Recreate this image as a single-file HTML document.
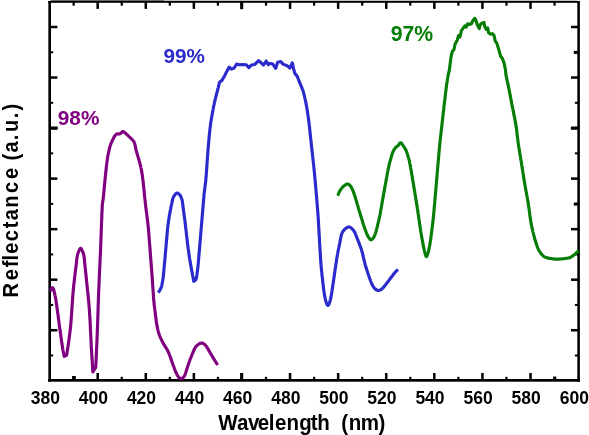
<!DOCTYPE html>
<html><head><meta charset="utf-8"><title>Reflectance</title>
<style>
html,body{margin:0;padding:0;background:#fff;}
body{width:589px;height:435px;overflow:hidden;}
svg{display:block;}
text{font-family:"Liberation Sans",Arial,Helvetica,sans-serif;font-weight:bold;}
</style></head><body>
<svg width="589" height="435" viewBox="0 0 589 435">
<rect x="0" y="0" width="589" height="435" fill="#fff"/>
<g fill="#000" stroke="none">
<rect x="50.30" y="0.00" width="114.20" height="1.00" fill="#6c6c6c"/>
<rect x="164.50" y="0.00" width="413.00" height="1.00" fill="#c6c0c6"/>
<rect x="72.55" y="376.80" width="2.20" height="3.55"/>
<rect x="72.55" y="1.90" width="2.20" height="3.80"/>
<rect x="96.44" y="373.00" width="2.50" height="7.35"/>
<rect x="96.44" y="1.90" width="2.50" height="7.00"/>
<rect x="120.64" y="376.80" width="2.20" height="3.55"/>
<rect x="120.64" y="1.90" width="2.20" height="3.80"/>
<rect x="144.53" y="373.00" width="2.50" height="7.35"/>
<rect x="144.53" y="1.90" width="2.50" height="7.00"/>
<rect x="168.73" y="376.80" width="2.20" height="3.55"/>
<rect x="168.73" y="1.90" width="2.20" height="3.80"/>
<rect x="192.62" y="373.00" width="2.50" height="7.35"/>
<rect x="192.62" y="1.90" width="2.50" height="7.00"/>
<rect x="216.82" y="376.80" width="2.20" height="3.55"/>
<rect x="216.82" y="1.90" width="2.20" height="3.80"/>
<rect x="240.71" y="373.00" width="2.50" height="7.35"/>
<rect x="240.71" y="1.90" width="2.50" height="7.00"/>
<rect x="264.91" y="376.80" width="2.20" height="3.55"/>
<rect x="264.91" y="1.90" width="2.20" height="3.80"/>
<rect x="288.80" y="373.00" width="2.50" height="7.35"/>
<rect x="288.80" y="1.90" width="2.50" height="7.00"/>
<rect x="313.00" y="376.80" width="2.20" height="3.55"/>
<rect x="313.00" y="1.90" width="2.20" height="3.80"/>
<rect x="336.90" y="373.00" width="2.50" height="7.35"/>
<rect x="336.90" y="1.90" width="2.50" height="7.00"/>
<rect x="361.09" y="376.80" width="2.20" height="3.55"/>
<rect x="361.09" y="1.90" width="2.20" height="3.80"/>
<rect x="384.99" y="373.00" width="2.50" height="7.35"/>
<rect x="384.99" y="1.90" width="2.50" height="7.00"/>
<rect x="409.18" y="376.80" width="2.20" height="3.55"/>
<rect x="409.18" y="1.90" width="2.20" height="3.80"/>
<rect x="433.08" y="373.00" width="2.50" height="7.35"/>
<rect x="433.08" y="1.90" width="2.50" height="7.00"/>
<rect x="457.27" y="376.80" width="2.20" height="3.55"/>
<rect x="457.27" y="1.90" width="2.20" height="3.80"/>
<rect x="481.17" y="373.00" width="2.50" height="7.35"/>
<rect x="481.17" y="1.90" width="2.50" height="7.00"/>
<rect x="505.36" y="376.80" width="2.20" height="3.55"/>
<rect x="505.36" y="1.90" width="2.20" height="3.80"/>
<rect x="529.26" y="373.00" width="2.50" height="7.35"/>
<rect x="529.26" y="1.90" width="2.50" height="7.00"/>
<rect x="553.45" y="376.80" width="2.20" height="3.55"/>
<rect x="553.45" y="1.90" width="2.20" height="3.80"/>
<rect x="49.60" y="354.51" width="3.60" height="2.00"/>
<rect x="574.90" y="354.51" width="3.70" height="2.00"/>
<rect x="49.60" y="328.99" width="7.80" height="2.50"/>
<rect x="571.00" y="328.99" width="7.60" height="2.50"/>
<rect x="49.60" y="303.97" width="3.60" height="2.00"/>
<rect x="574.90" y="303.97" width="3.70" height="2.00"/>
<rect x="49.60" y="278.45" width="7.80" height="2.50"/>
<rect x="571.00" y="278.45" width="7.60" height="2.50"/>
<rect x="49.60" y="253.43" width="3.60" height="2.00"/>
<rect x="574.90" y="253.43" width="3.70" height="2.00"/>
<rect x="49.60" y="227.91" width="7.80" height="2.50"/>
<rect x="571.00" y="227.91" width="7.60" height="2.50"/>
<rect x="49.60" y="202.89" width="3.60" height="2.00"/>
<rect x="574.90" y="202.89" width="3.70" height="2.00"/>
<rect x="49.60" y="177.37" width="7.80" height="2.50"/>
<rect x="571.00" y="177.37" width="7.60" height="2.50"/>
<rect x="49.60" y="152.35" width="3.60" height="2.00"/>
<rect x="574.90" y="152.35" width="3.70" height="2.00"/>
<rect x="49.60" y="126.83" width="7.80" height="2.50"/>
<rect x="571.00" y="126.83" width="7.60" height="2.50"/>
<rect x="49.60" y="101.81" width="3.60" height="2.00"/>
<rect x="574.90" y="101.81" width="3.70" height="2.00"/>
<rect x="49.60" y="76.29" width="7.80" height="2.50"/>
<rect x="571.00" y="76.29" width="7.60" height="2.50"/>
<rect x="49.60" y="51.27" width="3.60" height="2.00"/>
<rect x="574.90" y="51.27" width="3.70" height="2.00"/>
<rect x="49.60" y="25.75" width="7.80" height="2.50"/>
<rect x="571.00" y="25.75" width="7.60" height="2.50"/>
<rect x="51.00" y="126.60" width="6.60" height="3.10"/>
<rect x="570.90" y="126.60" width="6.40" height="3.10"/>
<rect x="573.80" y="50.90" width="3.50" height="3.00"/>
<rect x="573.80" y="202.60" width="3.50" height="3.00"/>
<rect x="72.05" y="376.00" width="3.80" height="3.50"/>
<rect x="240.20" y="373.00" width="2.80" height="6.50"/>
<rect x="553.30" y="376.60" width="3.00" height="2.90"/>
<rect x="240.20" y="2.00" width="2.80" height="7.20"/>
<rect x="48.35" y="1.00" width="2.65" height="380.70"/>
<rect x="577.30" y="1.00" width="2.60" height="380.70"/>
<rect x="48.10" y="1.00" width="531.80" height="1.80"/>
<rect x="48.10" y="379.00" width="531.80" height="2.70"/>
</g>
<g fill="none" stroke-linejoin="round" stroke-linecap="butt">
<polyline stroke="#800080" stroke-width="3.15" points="50.5,291.3 50.7,290.5 50.9,289.7 51.3,289.1 51.8,288.3 52.5,287.7 53.0,288.2 53.3,288.8 53.7,289.6 53.9,290.4 54.1,291.2 54.3,292.0 54.5,292.7 54.6,293.5 54.8,294.3 55.0,295.1 55.1,295.8 55.3,296.6 55.4,297.4 55.6,298.2 55.7,299.0 55.9,299.7 56.0,300.5 56.1,301.3 56.2,302.1 56.3,302.9 56.4,303.7 56.6,304.5 56.7,305.2 56.8,306.0 56.9,306.8 57.0,307.6 57.1,308.4 57.2,309.2 57.3,310.0 57.4,310.7 57.5,311.5 57.6,312.3 57.7,313.1 57.9,313.9 58.0,314.7 58.1,315.5 58.2,316.3 58.3,317.0 58.4,317.8 58.5,318.6 58.6,319.4 58.7,320.2 58.8,321.0 58.9,321.8 59.0,322.6 59.1,323.3 59.2,324.1 59.3,324.9 59.4,325.7 59.5,326.5 59.6,327.3 59.7,328.1 59.8,328.9 60.0,329.6 60.1,330.4 60.2,331.2 60.3,332.0 60.4,332.8 60.5,333.6 60.6,334.4 60.7,335.1 60.8,335.9 60.9,336.7 61.0,337.5 61.2,338.3 61.3,339.1 61.4,339.9 61.5,340.6 61.6,341.4 61.7,342.2 61.8,343.0 62.0,343.8 62.1,344.6 62.2,345.4 62.3,346.1 62.4,346.9 62.6,347.7 62.7,348.5 62.8,349.3 63.0,350.1 63.1,350.8 63.3,351.6 63.4,352.4 63.6,353.2 63.7,354.0 63.9,354.7 64.0,355.5 64.2,356.3 64.2,356.3 66.6,355.3 66.6,355.3 66.7,354.5 66.9,353.7 67.0,352.9 67.1,352.1 67.2,351.4 67.4,350.6 67.5,349.8 67.6,349.0 67.7,348.2 67.8,347.4 68.0,346.6 68.1,345.8 68.2,345.0 68.3,344.3 68.4,343.5 68.5,342.7 68.7,341.9 68.8,341.1 68.9,340.3 69.0,339.5 69.1,338.7 69.2,337.9 69.3,337.1 69.4,336.4 69.5,335.6 69.6,334.8 69.7,334.0 69.8,333.2 69.9,332.4 70.0,331.6 70.1,330.8 70.2,330.0 70.3,329.2 70.4,328.4 70.5,327.6 70.5,326.8 70.6,326.0 70.7,325.2 70.8,324.4 70.8,323.7 70.9,322.9 71.0,322.1 71.0,321.3 71.1,320.5 71.2,319.7 71.2,318.9 71.3,318.1 71.3,317.3 71.4,316.5 71.4,315.7 71.5,314.9 71.6,314.1 71.6,313.3 71.7,312.5 71.7,311.7 71.8,310.9 71.8,310.1 71.9,309.3 71.9,308.5 72.0,307.7 72.0,306.9 72.1,306.1 72.1,305.3 72.2,304.5 72.2,303.7 72.3,303.0 72.4,302.2 72.4,301.4 72.5,300.6 72.5,299.8 72.6,299.0 72.6,298.2 72.7,297.4 72.7,296.6 72.8,295.8 72.9,295.0 72.9,294.2 73.0,293.4 73.1,292.6 73.1,291.8 73.2,291.0 73.3,290.2 73.4,289.4 73.4,288.6 73.5,287.8 73.6,287.0 73.7,286.2 73.7,285.4 73.8,284.7 73.9,283.9 74.0,283.1 74.1,282.3 74.2,281.5 74.3,280.7 74.4,279.9 74.4,279.1 74.5,278.3 74.6,277.5 74.7,276.7 74.8,275.9 74.9,275.1 75.0,274.3 75.1,273.6 75.2,272.8 75.3,272.0 75.4,271.2 75.5,270.4 75.6,269.6 75.7,268.8 75.8,268.0 75.9,267.2 76.0,266.4 76.1,265.6 76.2,264.8 76.3,264.0 76.4,263.2 76.5,262.5 76.5,261.7 76.6,260.9 76.7,260.1 76.8,259.3 76.9,258.5 77.0,257.7 77.1,257.0 77.2,256.2 77.4,255.4 77.6,254.6 77.8,253.8 78.1,253.0 78.4,252.3 78.7,251.4 79.1,250.5 79.6,249.6 80.0,248.9 80.4,248.4 80.8,248.3 81.2,248.7 81.6,249.3 82.0,250.2 82.4,251.1 82.8,252.0 83.1,252.7 83.4,253.5 83.6,254.3 83.8,255.1 84.0,255.9 84.1,256.7 84.2,257.4 84.3,258.2 84.4,259.0 84.4,259.8 84.5,260.6 84.6,261.4 84.6,262.2 84.7,263.0 84.8,263.8 84.9,264.6 84.9,265.3 85.0,266.1 85.1,266.9 85.2,267.7 85.3,268.5 85.4,269.3 85.5,270.1 85.5,270.9 85.6,271.7 85.7,272.5 85.8,273.3 85.9,274.1 86.0,274.9 86.0,275.7 86.1,276.5 86.2,277.3 86.3,278.0 86.4,278.8 86.4,279.6 86.5,280.4 86.6,281.2 86.7,282.0 86.8,282.8 86.9,283.6 86.9,284.4 87.0,285.2 87.1,286.0 87.2,286.8 87.3,287.6 87.3,288.4 87.4,289.2 87.5,290.0 87.6,290.8 87.7,291.5 87.8,292.3 87.9,293.1 87.9,293.9 88.0,294.7 88.1,295.5 88.2,296.3 88.3,297.1 88.3,297.9 88.4,298.7 88.5,299.5 88.6,300.3 88.6,301.1 88.7,301.9 88.8,302.7 88.9,303.5 88.9,304.3 89.0,305.1 89.1,305.9 89.1,306.6 89.2,307.4 89.3,308.2 89.3,309.0 89.4,309.8 89.4,310.6 89.5,311.4 89.5,312.2 89.6,313.0 89.6,313.8 89.7,314.6 89.7,315.4 89.8,316.2 89.8,317.0 89.9,317.8 89.9,318.6 90.0,319.4 90.0,320.2 90.1,321.0 90.1,321.8 90.1,322.6 90.2,323.4 90.2,324.2 90.3,325.0 90.3,325.8 90.3,326.6 90.4,327.4 90.4,328.2 90.4,329.0 90.5,329.8 90.5,330.6 90.5,331.4 90.6,332.2 90.6,332.9 90.7,333.7 90.7,334.5 90.7,335.3 90.8,336.1 90.8,336.9 90.8,337.7 90.9,338.5 90.9,339.3 91.0,340.1 91.0,340.9 91.0,341.7 91.1,342.5 91.1,343.3 91.2,344.1 91.2,344.9 91.2,345.7 91.3,346.5 91.3,347.3 91.4,348.1 91.4,348.9 91.5,349.7 91.5,350.5 91.6,351.3 91.6,352.1 91.7,352.9 91.7,353.7 91.8,354.5 91.8,355.3 91.9,356.1 91.9,356.9 92.0,357.7 92.0,358.5 92.1,359.3 92.1,360.1 92.2,360.8 92.2,361.6 92.3,362.4 92.3,363.2 92.4,364.0 92.4,364.8 92.5,365.6 92.5,366.4 92.6,367.2 92.6,368.0 92.7,368.8 92.7,369.6 92.8,370.4 92.8,371.2 92.9,372.0 92.9,372.0 95.7,367.5 95.7,367.5 95.7,366.7 95.8,365.9 95.8,365.1 95.9,364.3 95.9,363.5 95.9,362.7 96.0,361.9 96.0,361.1 96.1,360.3 96.1,359.5 96.1,358.7 96.2,357.9 96.2,357.1 96.2,356.3 96.3,355.5 96.3,354.7 96.4,353.9 96.4,353.1 96.4,352.3 96.5,351.5 96.5,350.7 96.5,349.9 96.6,349.1 96.6,348.3 96.6,347.5 96.7,346.7 96.7,345.9 96.8,345.2 96.8,344.4 96.8,343.6 96.9,342.8 96.9,342.0 96.9,341.2 97.0,340.4 97.0,339.6 97.0,338.8 97.1,338.0 97.1,337.2 97.1,336.4 97.2,335.6 97.2,334.8 97.2,334.0 97.3,333.2 97.3,332.4 97.3,331.6 97.3,330.8 97.4,330.0 97.4,329.2 97.4,328.4 97.5,327.6 97.5,326.8 97.5,326.0 97.6,325.2 97.6,324.4 97.6,323.6 97.6,322.8 97.7,322.0 97.7,321.2 97.7,320.4 97.7,319.6 97.8,318.8 97.8,318.0 97.8,317.2 97.9,316.4 97.9,315.6 97.9,314.8 97.9,314.0 98.0,313.2 98.0,312.4 98.0,311.6 98.0,310.8 98.1,310.0 98.1,309.2 98.1,308.4 98.1,307.6 98.2,306.8 98.2,306.0 98.2,305.2 98.2,304.4 98.3,303.6 98.3,302.8 98.3,302.0 98.3,301.2 98.4,300.4 98.4,299.6 98.4,298.8 98.5,298.0 98.5,297.2 98.5,296.4 98.5,295.6 98.6,294.8 98.6,294.0 98.6,293.2 98.7,292.4 98.7,291.7 98.7,290.9 98.8,290.1 98.8,289.3 98.8,288.5 98.9,287.7 98.9,286.9 98.9,286.1 99.0,285.3 99.0,284.5 99.0,283.7 99.1,282.9 99.1,282.1 99.1,281.3 99.2,280.5 99.2,279.7 99.2,278.9 99.3,278.1 99.3,277.3 99.3,276.5 99.4,275.7 99.4,274.9 99.5,274.1 99.5,273.3 99.5,272.5 99.6,271.7 99.6,270.9 99.6,270.1 99.7,269.3 99.7,268.5 99.7,267.7 99.8,266.9 99.8,266.1 99.9,265.3 99.9,264.5 99.9,263.7 100.0,262.9 100.0,262.1 100.0,261.3 100.1,260.5 100.1,259.7 100.1,258.9 100.2,258.1 100.2,257.3 100.2,256.5 100.3,255.7 100.3,254.9 100.4,254.1 100.4,253.3 100.4,252.5 100.5,251.7 100.5,250.9 100.5,250.1 100.6,249.3 100.6,248.5 100.6,247.7 100.7,246.9 100.7,246.1 100.7,245.4 100.7,244.6 100.8,243.8 100.8,243.0 100.8,242.2 100.9,241.4 100.9,240.6 100.9,239.8 101.0,239.0 101.0,238.2 101.0,237.4 101.0,236.6 101.1,235.8 101.1,235.0 101.1,234.2 101.2,233.4 101.2,232.6 101.2,231.8 101.2,231.0 101.3,230.2 101.3,229.4 101.3,228.6 101.4,227.8 101.4,227.0 101.4,226.2 101.4,225.4 101.5,224.6 101.5,223.8 101.5,223.0 101.6,222.2 101.6,221.4 101.6,220.6 101.7,219.8 101.7,219.0 101.7,218.2 101.8,217.4 101.8,216.6 101.8,215.8 101.8,215.0 101.9,214.2 101.9,213.4 102.0,212.6 102.0,211.8 102.0,211.0 102.1,210.2 102.1,209.4 102.1,208.6 102.2,207.8 102.2,207.0 102.2,206.2 102.3,205.4 102.3,204.6 102.4,203.8 102.5,203.0 102.6,202.3 102.8,201.5 102.9,200.7 103.0,199.9 103.2,199.1 103.3,198.3 103.3,197.5 103.4,196.7 103.5,195.9 103.6,195.1 103.7,194.3 103.7,193.5 103.8,192.7 103.9,191.9 104.0,191.2 104.0,190.4 104.1,189.6 104.2,188.8 104.2,188.0 104.3,187.2 104.4,186.4 104.5,185.6 104.5,184.8 104.6,184.0 104.7,183.2 104.8,182.4 104.8,181.6 104.9,180.8 105.0,180.0 105.1,179.2 105.1,178.4 105.2,177.6 105.3,176.8 105.4,176.0 105.5,175.2 105.5,174.4 105.6,173.7 105.7,172.9 105.8,172.1 105.9,171.3 106.0,170.5 106.1,169.7 106.2,168.9 106.2,168.1 106.3,167.3 106.4,166.5 106.5,165.7 106.6,164.9 106.7,164.1 106.8,163.3 106.9,162.5 107.0,161.7 107.1,160.9 107.2,160.2 107.3,159.4 107.4,158.6 107.5,157.8 107.7,157.0 107.8,156.2 108.0,155.4 108.1,154.7 108.3,153.9 108.4,153.1 108.6,152.3 108.8,151.5 109.0,150.7 109.1,150.0 109.3,149.2 109.5,148.4 109.7,147.6 109.9,146.8 110.1,146.1 110.4,145.3 110.6,144.6 110.9,143.8 111.2,143.1 111.5,142.4 111.9,141.6 112.2,140.9 112.5,140.2 112.9,139.4 113.2,138.7 113.6,138.0 114.0,137.3 114.4,136.6 114.8,135.9 115.3,135.3 115.9,134.7 116.5,134.2 117.2,133.8 118.0,133.8 118.9,133.9 119.7,133.9 120.4,133.6 121.1,133.0 121.8,132.3 122.4,131.7 123.1,131.5 123.7,131.8 124.3,132.2 124.9,132.7 125.6,133.2 126.2,133.8 126.7,134.3 127.3,134.9 127.9,135.4 128.5,136.0 129.1,136.6 129.7,137.1 130.2,137.7 130.8,138.2 131.4,138.8 131.9,139.4 132.5,140.0 133.0,140.5 133.5,141.2 134.0,141.8 134.3,142.6 134.6,143.3 134.8,144.1 135.0,144.9 135.2,145.6 135.3,146.4 135.5,147.2 135.6,148.0 135.8,148.8 136.0,149.6 136.1,150.3 136.3,151.1 136.6,151.9 136.8,152.6 137.0,153.4 137.3,154.2 137.5,154.9 137.7,155.7 138.0,156.5 138.2,157.2 138.4,158.0 138.6,158.8 138.9,159.5 139.1,160.3 139.3,161.1 139.5,161.8 139.7,162.6 139.9,163.4 140.1,164.2 140.3,164.9 140.5,165.7 140.7,166.5 140.8,167.3 141.0,168.1 141.2,168.8 141.3,169.6 141.5,170.4 141.6,171.2 141.7,172.0 141.9,172.8 142.0,173.6 142.1,174.4 142.2,175.1 142.4,175.9 142.5,176.7 142.6,177.5 142.7,178.3 142.8,179.1 142.9,179.9 143.0,180.7 143.1,181.5 143.2,182.3 143.3,183.1 143.3,183.9 143.4,184.7 143.5,185.5 143.6,186.3 143.7,187.0 143.8,187.8 143.8,188.6 143.9,189.4 144.0,190.2 144.1,191.0 144.2,191.8 144.2,192.6 144.3,193.4 144.4,194.2 144.5,195.0 144.6,195.8 144.6,196.6 144.7,197.4 144.8,198.2 144.9,199.0 145.0,199.8 145.1,200.6 145.2,201.4 145.2,202.1 145.3,202.9 145.4,203.7 145.5,204.5 145.6,205.3 145.7,206.1 145.8,206.9 145.9,207.7 146.0,208.5 146.1,209.3 146.2,210.1 146.3,210.9 146.4,211.7 146.5,212.5 146.6,213.2 146.7,214.0 146.8,214.8 146.9,215.6 147.0,216.4 147.1,217.2 147.2,218.0 147.3,218.8 147.4,219.6 147.5,220.4 147.6,221.2 147.7,222.0 147.8,222.8 147.9,223.6 148.0,224.4 148.0,225.2 148.1,225.9 148.2,226.7 148.3,227.5 148.4,228.3 148.4,229.1 148.5,229.9 148.6,230.7 148.6,231.5 148.7,232.3 148.8,233.1 148.8,233.9 148.9,234.7 149.0,235.5 149.0,236.3 149.1,237.1 149.1,237.9 149.2,238.7 149.3,239.5 149.3,240.3 149.4,241.1 149.5,241.9 149.5,242.7 149.6,243.5 149.6,244.3 149.7,245.1 149.8,245.9 149.8,246.7 149.9,247.4 150.0,248.2 150.0,249.0 150.1,249.8 150.1,250.6 150.2,251.4 150.3,252.2 150.3,253.0 150.4,253.8 150.4,254.6 150.5,255.4 150.6,256.2 150.6,257.0 150.7,257.8 150.7,258.6 150.8,259.4 150.9,260.2 150.9,261.0 151.0,261.8 151.1,262.6 151.1,263.4 151.2,264.2 151.2,265.0 151.3,265.8 151.4,266.6 151.4,267.4 151.5,268.2 151.5,269.0 151.6,269.8 151.7,270.6 151.7,271.3 151.8,272.1 151.8,272.9 151.9,273.7 152.0,274.5 152.0,275.3 152.1,276.1 152.1,276.9 152.2,277.7 152.3,278.5 152.3,279.3 152.4,280.1 152.4,280.9 152.5,281.7 152.5,282.5 152.6,283.3 152.6,284.1 152.7,284.9 152.7,285.7 152.8,286.5 152.8,287.3 152.9,288.1 152.9,288.9 153.0,289.7 153.1,290.5 153.1,291.3 153.2,292.1 153.2,292.9 153.3,293.7 153.3,294.5 153.4,295.3 153.4,296.1 153.5,296.9 153.5,297.7 153.6,298.4 153.7,299.2 153.7,300.0 153.8,300.8 153.9,301.6 154.0,302.4 154.1,303.2 154.1,304.0 154.2,304.8 154.3,305.6 154.4,306.4 154.5,307.2 154.6,308.0 154.7,308.8 154.8,309.6 154.9,310.4 155.0,311.2 155.1,312.0 155.2,312.7 155.3,313.5 155.4,314.3 155.5,315.1 155.6,315.9 155.7,316.7 155.8,317.5 155.9,318.3 156.0,319.1 156.1,319.9 156.2,320.7 156.3,321.5 156.4,322.3 156.5,323.0 156.7,323.8 156.8,324.6 156.9,325.4 157.1,326.2 157.2,327.0 157.4,327.8 157.6,328.5 157.7,329.3 157.9,330.1 158.1,330.9 158.3,331.7 158.5,332.4 158.8,333.2 159.0,334.0 159.3,334.7 159.5,335.5 159.8,336.2 160.1,337.0 160.5,337.7 160.8,338.4 161.1,339.1 161.5,339.9 161.8,340.6 162.2,341.3 162.6,342.0 162.9,342.7 163.3,343.4 163.7,344.1 164.1,344.8 164.5,345.5 165.0,346.2 165.4,346.8 165.8,347.5 166.2,348.2 166.7,348.9 167.1,349.6 167.4,350.3 167.8,351.0 168.2,351.7 168.5,352.4 168.8,353.2 169.1,353.9 169.4,354.6 169.7,355.4 170.0,356.1 170.2,356.9 170.5,357.6 170.8,358.4 171.0,359.1 171.3,359.9 171.5,360.7 171.8,361.4 172.1,362.2 172.3,362.9 172.6,363.7 172.9,364.4 173.1,365.2 173.4,365.9 173.7,366.7 174.0,367.4 174.3,368.2 174.5,368.9 174.8,369.6 175.1,370.4 175.4,371.1 175.7,371.8 176.1,372.6 176.4,373.3 176.7,374.0 177.1,374.7 177.5,375.5 177.9,376.2 178.4,376.9 179.0,377.6 179.8,378.2 180.5,378.6 181.3,378.8 181.9,378.7 182.5,378.3 183.1,377.7 183.6,377.1 184.1,376.4 184.6,375.6 184.9,374.9 185.2,374.1 185.5,373.3 185.7,372.6 186.0,371.8 186.2,371.1 186.5,370.3 186.7,369.5 186.9,368.8 187.2,368.0 187.4,367.3 187.6,366.5 187.9,365.7 188.1,365.0 188.4,364.2 188.6,363.5 188.9,362.7 189.2,362.0 189.5,361.2 189.7,360.5 190.0,359.7 190.3,359.0 190.6,358.3 190.9,357.5 191.2,356.8 191.5,356.0 191.8,355.3 192.1,354.5 192.4,353.8 192.7,353.1 193.0,352.3 193.3,351.6 193.6,350.9 193.9,350.1 194.3,349.4 194.6,348.7 195.0,348.0 195.4,347.4 195.9,346.7 196.4,346.2 197.0,345.6 197.6,345.0 198.3,344.5 199.0,343.9 199.8,343.5 200.5,343.2 201.3,343.1 202.0,343.1 202.8,343.3 203.5,343.7 204.2,344.1 204.9,344.7 205.5,345.3 206.0,345.9 206.5,346.6 206.9,347.2 207.3,347.9 207.7,348.6 208.1,349.2 208.5,349.9 208.9,350.6 209.3,351.3 209.7,352.0 210.1,352.7 210.5,353.4 211.0,354.1 211.4,354.8 211.8,355.5 212.2,356.1 212.6,356.8 213.0,357.5 213.4,358.2 213.8,358.9 214.3,359.6 214.7,360.2 215.1,360.9 215.5,361.6 215.9,362.3 216.3,363.0 216.8,363.6 217.2,364.3 217.6,365.0"/>
<polyline stroke="#2a2acd" stroke-width="3.15" points="158.2,292.7 158.7,292.0 159.1,291.4 159.6,290.7 160.0,290.0 160.4,289.3 160.7,288.6 161.0,287.9 161.3,287.1 161.5,286.3 161.7,285.6 161.9,284.8 162.0,284.0 162.2,283.2 162.4,282.4 162.5,281.7 162.7,280.9 162.8,280.1 162.9,279.3 163.0,278.5 163.2,277.7 163.3,276.9 163.3,276.1 163.4,275.3 163.5,274.5 163.6,273.7 163.6,273.0 163.7,272.2 163.8,271.4 163.9,270.6 163.9,269.8 164.0,269.0 164.1,268.2 164.1,267.4 164.2,266.6 164.3,265.8 164.4,265.0 164.4,264.2 164.5,263.4 164.6,262.6 164.7,261.8 164.7,261.0 164.8,260.3 164.9,259.5 164.9,258.7 165.0,257.9 165.1,257.1 165.2,256.3 165.2,255.5 165.3,254.7 165.4,253.9 165.4,253.1 165.5,252.3 165.6,251.5 165.6,250.7 165.7,249.9 165.8,249.1 165.8,248.3 165.9,247.5 166.0,246.7 166.1,246.0 166.1,245.2 166.2,244.4 166.3,243.6 166.3,242.8 166.4,242.0 166.5,241.2 166.5,240.4 166.6,239.6 166.7,238.8 166.8,238.0 166.8,237.2 166.9,236.4 167.0,235.6 167.0,234.8 167.1,234.0 167.2,233.2 167.2,232.5 167.3,231.7 167.4,230.9 167.5,230.1 167.6,229.3 167.6,228.5 167.7,227.7 167.8,226.9 167.9,226.1 168.0,225.3 168.1,224.5 168.2,223.7 168.3,222.9 168.4,222.2 168.5,221.4 168.6,220.6 168.7,219.8 168.9,219.0 169.0,218.2 169.1,217.4 169.2,216.6 169.3,215.8 169.5,215.1 169.6,214.3 169.8,213.5 169.9,212.7 170.1,211.9 170.2,211.1 170.4,210.4 170.5,209.6 170.7,208.8 170.8,208.0 170.9,207.2 171.1,206.4 171.3,205.7 171.4,204.9 171.6,204.1 171.8,203.3 171.9,202.5 172.1,201.8 172.3,201.0 172.5,200.2 172.6,199.4 172.8,198.7 173.1,197.9 173.4,197.2 173.8,196.5 174.2,195.8 174.7,195.0 175.3,194.3 175.9,193.7 176.5,193.2 177.1,193.0 177.7,193.1 178.3,193.5 179.0,194.0 179.5,194.7 180.1,195.4 180.6,196.2 181.0,197.0 181.3,197.8 181.6,198.6 181.9,199.3 182.1,200.1 182.3,200.9 182.4,201.7 182.5,202.5 182.6,203.2 182.7,204.0 182.8,204.8 182.9,205.6 183.0,206.4 183.0,207.2 183.1,207.9 183.3,208.7 183.4,209.5 183.5,210.3 183.6,211.1 183.7,211.9 183.8,212.7 183.9,213.5 184.0,214.3 184.1,215.1 184.2,215.8 184.3,216.6 184.4,217.4 184.6,218.2 184.7,219.0 184.8,219.8 184.9,220.6 185.0,221.4 185.1,222.2 185.2,223.0 185.3,223.7 185.4,224.5 185.4,225.3 185.5,226.1 185.6,226.9 185.7,227.7 185.8,228.5 185.9,229.3 186.0,230.1 186.1,230.9 186.2,231.7 186.3,232.5 186.3,233.3 186.4,234.0 186.5,234.8 186.6,235.6 186.7,236.4 186.8,237.2 186.9,238.0 187.0,238.8 187.1,239.6 187.2,240.4 187.3,241.2 187.4,242.0 187.5,242.8 187.5,243.6 187.6,244.3 187.7,245.1 187.8,245.9 187.9,246.7 188.0,247.5 188.1,248.3 188.3,249.1 188.4,249.9 188.5,250.7 188.6,251.5 188.7,252.2 188.8,253.0 188.9,253.8 189.0,254.6 189.1,255.4 189.2,256.2 189.4,257.0 189.5,257.8 189.6,258.6 189.7,259.3 189.9,260.1 190.0,260.9 190.1,261.7 190.3,262.5 190.4,263.3 190.5,264.1 190.7,264.8 190.8,265.6 191.0,266.4 191.1,267.2 191.2,268.0 191.4,268.8 191.5,269.6 191.7,270.3 191.8,271.1 192.0,271.9 192.1,272.7 192.3,273.5 192.4,274.3 192.6,275.0 192.7,275.8 192.9,276.6 193.0,277.4 193.2,278.2 193.3,279.0 193.5,279.7 193.6,280.5 193.8,281.3 193.8,281.3 194.5,280.8 195.2,280.3 195.8,279.7 196.1,279.0 196.3,278.3 196.5,277.5 196.6,276.7 196.7,275.9 196.8,275.1 197.0,274.3 197.1,273.5 197.2,272.7 197.3,271.9 197.4,271.2 197.5,270.4 197.6,269.6 197.7,268.8 197.8,268.0 197.9,267.2 198.0,266.4 198.0,265.6 198.1,264.8 198.2,264.0 198.3,263.2 198.3,262.4 198.4,261.6 198.5,260.8 198.5,260.0 198.6,259.2 198.7,258.4 198.7,257.6 198.8,256.8 198.9,256.1 198.9,255.3 199.0,254.5 199.1,253.7 199.1,252.9 199.2,252.1 199.3,251.3 199.4,250.5 199.4,249.7 199.5,248.9 199.6,248.1 199.6,247.3 199.7,246.5 199.8,245.7 199.8,244.9 199.9,244.1 200.0,243.3 200.0,242.5 200.1,241.7 200.2,240.9 200.2,240.1 200.3,239.3 200.4,238.5 200.4,237.8 200.5,237.0 200.6,236.2 200.6,235.4 200.7,234.6 200.8,233.8 200.8,233.0 200.9,232.2 201.0,231.4 201.0,230.6 201.1,229.8 201.2,229.0 201.2,228.2 201.3,227.4 201.4,226.6 201.4,225.8 201.5,225.0 201.6,224.2 201.6,223.4 201.7,222.6 201.8,221.8 201.8,221.0 201.9,220.2 202.0,219.4 202.0,218.7 202.1,217.9 202.2,217.1 202.2,216.3 202.3,215.5 202.4,214.7 202.4,213.9 202.5,213.1 202.6,212.3 202.6,211.5 202.7,210.7 202.8,209.9 202.8,209.1 202.9,208.3 203.0,207.5 203.0,206.7 203.1,205.9 203.2,205.1 203.2,204.3 203.3,203.5 203.4,202.7 203.4,201.9 203.5,201.1 203.6,200.3 203.6,199.6 203.7,198.8 203.8,198.0 203.8,197.2 203.9,196.4 204.0,195.6 204.0,194.8 204.1,194.0 204.2,193.2 204.3,192.4 204.4,191.6 204.5,190.8 204.6,190.0 204.7,189.2 204.8,188.4 204.9,187.6 205.0,186.8 205.1,186.1 205.2,185.3 205.3,184.5 205.4,183.7 205.5,182.9 205.6,182.1 205.7,181.3 205.8,180.5 205.8,179.7 205.9,178.9 206.0,178.1 206.0,177.3 206.1,176.5 206.2,175.7 206.2,174.9 206.3,174.1 206.4,173.3 206.4,172.5 206.5,171.8 206.5,171.0 206.6,170.2 206.6,169.4 206.7,168.6 206.8,167.8 206.8,167.0 206.9,166.2 206.9,165.4 207.0,164.6 207.0,163.8 207.1,163.0 207.1,162.2 207.2,161.4 207.2,160.6 207.3,159.8 207.4,159.0 207.4,158.2 207.5,157.4 207.5,156.6 207.6,155.8 207.6,155.0 207.7,154.2 207.8,153.4 207.8,152.6 207.9,151.8 207.9,151.0 208.0,150.2 208.1,149.4 208.1,148.7 208.2,147.9 208.3,147.1 208.3,146.3 208.4,145.5 208.5,144.7 208.5,143.9 208.6,143.1 208.7,142.3 208.7,141.5 208.8,140.7 208.9,139.9 209.0,139.1 209.0,138.3 209.1,137.5 209.2,136.7 209.3,135.9 209.3,135.1 209.4,134.3 209.5,133.5 209.6,132.7 209.7,132.0 209.8,131.2 209.8,130.4 209.9,129.6 210.0,128.8 210.1,128.0 210.2,127.2 210.3,126.4 210.4,125.6 210.5,124.8 210.6,124.0 210.7,123.2 210.8,122.4 210.9,121.6 211.1,120.9 211.2,120.1 211.3,119.3 211.4,118.5 211.6,117.7 211.7,116.9 211.8,116.1 212.0,115.3 212.1,114.6 212.2,113.8 212.4,113.0 212.5,112.2 212.7,111.4 212.8,110.6 213.0,109.8 213.1,109.1 213.3,108.3 213.4,107.5 213.6,106.7 213.8,105.9 213.9,105.1 214.1,104.4 214.3,103.6 214.4,102.8 214.6,102.0 214.8,101.2 215.0,100.5 215.1,99.7 215.3,98.9 215.5,98.1 215.7,97.4 215.9,96.6 216.1,95.8 216.3,95.0 216.5,94.3 216.7,93.5 216.9,92.7 217.1,91.9 217.3,91.2 217.5,90.4 217.7,89.6 217.9,88.8 218.1,88.1 218.3,87.3 218.4,86.5 218.6,85.7 218.8,85.0 219.0,84.2 219.2,83.4 219.4,82.6 219.8,82.0 220.4,81.5 221.1,81.0 221.9,80.6 221.9,80.6 224.5,76.0 227.2,70.6 229.2,67.1 231.5,69.1 234.1,68.0 236.7,64.1 239.4,64.8 242.5,64.5 246.3,64.8 248.9,67.6 251.4,65.0 254.7,64.5 258.6,60.7 260.8,62.5 263.6,65.0 266.2,61.0 268.2,64.5 270.3,63.4 272.8,64.1 275.7,68.3 277.7,62.2 280.7,61.5 283.0,64.1 286.8,65.6 289.9,68.0 292.3,63.0 293.7,69.1 294.8,73.2 297.5,76.7 297.5,76.7 297.8,77.5 298.0,78.2 298.3,79.0 298.6,79.7 298.9,80.5 299.1,81.2 299.4,81.9 299.7,82.7 300.0,83.4 300.3,84.2 300.6,84.9 301.0,85.6 301.3,86.4 301.6,87.1 301.9,87.8 302.2,88.6 302.5,89.3 302.8,90.1 303.0,90.8 303.3,91.6 303.5,92.3 303.7,93.1 303.9,93.9 304.1,94.7 304.3,95.4 304.5,96.2 304.7,97.0 304.8,97.8 305.0,98.6 305.2,99.3 305.4,100.1 305.5,100.9 305.7,101.7 305.8,102.5 306.0,103.2 306.1,104.0 306.3,104.8 306.4,105.6 306.6,106.4 306.7,107.2 306.8,108.0 307.0,108.8 307.1,109.5 307.2,110.3 307.3,111.1 307.4,111.9 307.6,112.7 307.7,113.5 307.8,114.3 307.9,115.1 308.0,115.9 308.2,116.7 308.3,117.4 308.4,118.2 308.5,119.0 308.6,119.8 308.7,120.6 308.8,121.4 308.9,122.2 309.0,123.0 309.1,123.8 309.2,124.6 309.3,125.4 309.4,126.2 309.5,126.9 309.6,127.7 309.6,128.5 309.7,129.3 309.8,130.1 309.9,130.9 310.0,131.7 310.1,132.5 310.1,133.3 310.2,134.1 310.3,134.9 310.4,135.7 310.5,136.5 310.6,137.3 310.7,138.1 310.7,138.9 310.8,139.7 310.9,140.4 311.0,141.2 311.1,142.0 311.2,142.8 311.3,143.6 311.3,144.4 311.4,145.2 311.5,146.0 311.6,146.8 311.7,147.6 311.8,148.4 311.9,149.2 311.9,150.0 312.0,150.8 312.1,151.6 312.2,152.4 312.3,153.1 312.4,153.9 312.5,154.7 312.6,155.5 312.7,156.3 312.7,157.1 312.8,157.9 312.9,158.7 313.0,159.5 313.1,160.3 313.2,161.1 313.3,161.9 313.4,162.7 313.4,163.5 313.5,164.3 313.6,165.0 313.7,165.8 313.8,166.6 313.9,167.4 314.0,168.2 314.0,169.0 314.1,169.8 314.2,170.6 314.3,171.4 314.4,172.2 314.4,173.0 314.5,173.8 314.6,174.6 314.7,175.4 314.7,176.2 314.8,177.0 314.9,177.8 315.0,178.6 315.0,179.4 315.1,180.1 315.2,180.9 315.2,181.7 315.3,182.5 315.4,183.3 315.5,184.1 315.5,184.9 315.6,185.7 315.7,186.5 315.7,187.3 315.8,188.1 315.9,188.9 315.9,189.7 316.0,190.5 316.1,191.3 316.1,192.1 316.2,192.9 316.3,193.7 316.3,194.5 316.4,195.3 316.5,196.1 316.5,196.9 316.6,197.7 316.7,198.4 316.7,199.2 316.8,200.0 316.9,200.8 316.9,201.6 317.0,202.4 317.1,203.2 317.1,204.0 317.2,204.8 317.3,205.6 317.3,206.4 317.4,207.2 317.5,208.0 317.5,208.8 317.6,209.6 317.7,210.4 317.7,211.2 317.8,212.0 317.8,212.8 317.9,213.6 318.0,214.4 318.0,215.2 318.1,216.0 318.1,216.8 318.2,217.6 318.2,218.3 318.3,219.1 318.3,219.9 318.4,220.7 318.4,221.5 318.5,222.3 318.5,223.1 318.6,223.9 318.6,224.7 318.6,225.5 318.7,226.3 318.7,227.1 318.8,227.9 318.8,228.7 318.9,229.5 318.9,230.3 319.0,231.1 319.0,231.9 319.0,232.7 319.1,233.5 319.1,234.3 319.2,235.1 319.2,235.9 319.3,236.7 319.3,237.5 319.4,238.3 319.4,239.1 319.5,239.9 319.5,240.7 319.5,241.5 319.6,242.3 319.6,243.1 319.7,243.9 319.7,244.7 319.8,245.5 319.8,246.2 319.9,247.0 319.9,247.8 320.0,248.6 320.0,249.4 320.1,250.2 320.1,251.0 320.2,251.8 320.2,252.6 320.3,253.4 320.3,254.2 320.4,255.0 320.4,255.8 320.5,256.6 320.5,257.4 320.6,258.2 320.6,259.0 320.7,259.8 320.7,260.6 320.8,261.4 320.8,262.2 320.9,263.0 320.9,263.8 321.0,264.6 321.1,265.4 321.1,266.2 321.2,267.0 321.3,267.8 321.4,268.6 321.4,269.3 321.5,270.1 321.6,270.9 321.7,271.7 321.8,272.5 321.9,273.3 321.9,274.1 322.0,274.9 322.1,275.7 322.2,276.5 322.3,277.3 322.4,278.1 322.5,278.9 322.6,279.7 322.6,280.5 322.7,281.3 322.8,282.0 322.9,282.8 323.0,283.6 323.1,284.4 323.2,285.2 323.3,286.0 323.4,286.8 323.4,287.6 323.5,288.4 323.6,289.2 323.7,290.0 323.8,290.8 324.0,291.5 324.1,292.3 324.2,293.1 324.3,293.9 324.4,294.7 324.6,295.5 324.7,296.3 324.9,297.0 325.1,297.8 325.2,298.6 325.4,299.4 325.6,300.2 325.8,301.0 326.1,301.9 326.4,302.8 326.7,303.7 327.0,304.5 327.3,305.1 327.7,305.5 328.0,305.5 328.4,305.1 328.8,304.4 329.2,303.5 329.6,302.5 329.9,301.5 330.2,300.6 330.4,299.8 330.5,299.0 330.7,298.2 330.9,297.5 331.0,296.7 331.2,295.9 331.3,295.1 331.5,294.3 331.6,293.5 331.7,292.7 331.9,292.0 332.0,291.2 332.1,290.4 332.2,289.6 332.3,288.8 332.5,288.0 332.6,287.2 332.7,286.4 332.8,285.7 332.9,284.9 333.0,284.1 333.1,283.3 333.3,282.5 333.4,281.7 333.5,280.9 333.6,280.1 333.7,279.3 333.8,278.5 334.0,277.8 334.1,277.0 334.2,276.2 334.3,275.4 334.4,274.6 334.5,273.8 334.6,273.0 334.8,272.2 334.9,271.4 335.0,270.6 335.1,269.9 335.2,269.1 335.3,268.3 335.4,267.5 335.6,266.7 335.7,265.9 335.8,265.1 335.9,264.3 336.0,263.5 336.1,262.7 336.3,262.0 336.4,261.2 336.5,260.4 336.6,259.6 336.7,258.8 336.9,258.0 337.0,257.2 337.1,256.4 337.3,255.7 337.4,254.9 337.5,254.1 337.7,253.3 337.8,252.5 338.0,251.7 338.1,250.9 338.3,250.2 338.4,249.4 338.6,248.6 338.8,247.8 338.9,247.0 339.1,246.2 339.2,245.5 339.4,244.7 339.6,243.9 339.7,243.1 339.9,242.3 340.0,241.5 340.2,240.8 340.3,240.0 340.5,239.2 340.6,238.4 340.8,237.7 340.9,236.9 341.1,236.2 341.2,235.4 341.5,234.7 341.7,233.9 342.0,233.2 342.4,232.4 342.8,231.7 343.3,231.0 343.9,230.2 344.5,229.5 345.2,228.9 345.9,228.3 346.6,227.8 347.3,227.4 347.9,227.1 348.6,227.0 349.3,227.0 350.0,227.2 350.7,227.6 351.3,228.1 352.0,228.7 352.6,229.3 353.2,230.0 353.8,230.7 354.2,231.4 354.6,232.1 355.0,232.8 355.3,233.5 355.6,234.2 355.8,235.0 356.1,235.7 356.4,236.4 356.7,237.2 357.0,237.9 357.3,238.6 357.6,239.4 357.9,240.1 358.2,240.9 358.5,241.6 358.8,242.4 359.1,243.1 359.4,243.8 359.6,244.6 359.9,245.3 360.2,246.1 360.5,246.8 360.7,247.6 361.0,248.3 361.3,249.1 361.5,249.9 361.7,250.6 361.9,251.4 362.2,252.2 362.4,252.9 362.6,253.7 362.8,254.5 362.9,255.2 363.1,256.0 363.3,256.8 363.5,257.6 363.7,258.4 363.9,259.1 364.0,259.9 364.2,260.7 364.4,261.5 364.6,262.2 364.8,263.0 365.0,263.8 365.2,264.6 365.4,265.3 365.6,266.1 365.9,266.9 366.1,267.6 366.3,268.4 366.6,269.2 366.8,269.9 367.0,270.7 367.3,271.4 367.5,272.2 367.8,272.9 368.1,273.7 368.3,274.5 368.6,275.2 368.8,276.0 369.1,276.7 369.4,277.5 369.6,278.2 369.9,279.0 370.2,279.7 370.4,280.5 370.7,281.2 371.0,282.0 371.3,282.7 371.6,283.4 371.9,284.1 372.3,284.8 372.6,285.5 373.1,286.2 373.5,286.9 374.0,287.6 374.5,288.3 375.1,288.9 375.8,289.4 376.5,289.9 377.2,290.2 377.9,290.4 378.7,290.4 379.4,290.3 380.2,290.0 381.0,289.6 381.7,289.1 382.3,288.5 382.9,288.0 383.4,287.4 383.9,286.8 384.5,286.2 385.0,285.6 385.4,285.0 385.9,284.3 386.4,283.7 386.9,283.1 387.4,282.4 387.9,281.8 388.3,281.2 388.8,280.5 389.3,279.9 389.8,279.2 390.3,278.6 390.7,278.0 391.2,277.3 391.7,276.7 392.2,276.1 392.7,275.4 393.2,274.8 393.6,274.2 394.1,273.5 394.6,272.9 395.1,272.3 395.7,271.7 396.2,271.1 396.8,270.6 397.4,270.0 398.0,269.5"/>
<polyline stroke="#067e06" stroke-width="3.15" points="337.8,195.8 338.1,195.0 338.3,194.2 338.6,193.5 339.0,192.8 339.3,192.0 339.7,191.3 340.0,190.6 340.4,190.0 340.9,189.3 341.4,188.6 341.8,188.0 342.4,187.4 342.9,186.8 343.5,186.3 344.2,185.8 344.8,185.3 345.5,184.8 346.3,184.3 347.0,184.0 347.7,184.0 348.4,184.2 349.1,184.6 349.7,185.2 350.3,185.8 350.8,186.5 351.3,187.2 351.7,188.0 352.0,188.7 352.4,189.4 352.7,190.2 353.0,190.9 353.3,191.7 353.6,192.4 353.9,193.1 354.1,193.9 354.4,194.6 354.6,195.4 354.9,196.1 355.1,196.9 355.4,197.7 355.6,198.4 355.8,199.2 356.0,200.0 356.3,200.7 356.5,201.5 356.7,202.3 356.9,203.0 357.2,203.8 357.4,204.6 357.6,205.3 357.8,206.1 358.1,206.9 358.3,207.7 358.5,208.4 358.7,209.2 359.0,210.0 359.2,210.7 359.4,211.5 359.7,212.2 359.9,213.0 360.1,213.8 360.4,214.5 360.6,215.3 360.8,216.1 361.1,216.8 361.3,217.6 361.5,218.4 361.8,219.1 362.0,219.9 362.2,220.7 362.5,221.4 362.7,222.2 362.9,223.0 363.2,223.7 363.4,224.5 363.7,225.2 363.9,226.0 364.2,226.7 364.5,227.5 364.7,228.2 365.0,229.0 365.3,229.7 365.6,230.5 365.8,231.3 366.1,232.0 366.4,232.8 366.7,233.5 367.0,234.3 367.4,235.1 367.7,235.8 368.2,236.6 368.6,237.3 369.0,238.0 369.5,238.6 370.0,239.2 370.4,239.6 371.0,239.8 371.7,239.5 372.4,238.9 373.1,238.2 373.7,237.3 374.2,236.5 374.5,235.7 374.8,235.0 375.1,234.2 375.4,233.5 375.7,232.7 375.9,232.0 376.1,231.2 376.3,230.5 376.5,229.7 376.7,228.9 376.9,228.1 377.1,227.4 377.3,226.6 377.5,225.8 377.6,225.0 377.8,224.2 378.0,223.5 378.2,222.7 378.4,221.9 378.6,221.1 378.8,220.3 378.9,219.6 379.1,218.8 379.3,218.0 379.5,217.2 379.6,216.4 379.8,215.7 380.0,214.9 380.1,214.1 380.3,213.3 380.4,212.5 380.5,211.7 380.7,210.9 380.8,210.2 381.0,209.4 381.1,208.6 381.2,207.8 381.4,207.0 381.5,206.2 381.7,205.4 381.8,204.6 381.9,203.9 382.1,203.1 382.2,202.3 382.3,201.5 382.5,200.7 382.6,199.9 382.8,199.1 382.9,198.3 383.0,197.5 383.2,196.8 383.3,196.0 383.4,195.2 383.6,194.4 383.7,193.6 383.9,192.8 384.0,192.0 384.1,191.2 384.3,190.5 384.4,189.7 384.6,188.9 384.7,188.1 384.8,187.3 385.0,186.5 385.1,185.7 385.3,184.9 385.4,184.2 385.6,183.4 385.7,182.6 385.8,181.8 386.0,181.0 386.1,180.2 386.3,179.4 386.4,178.7 386.6,177.9 386.7,177.1 386.9,176.3 387.0,175.5 387.2,174.7 387.3,173.9 387.4,173.1 387.6,172.4 387.7,171.6 387.9,170.8 388.0,170.0 388.2,169.2 388.3,168.4 388.5,167.7 388.7,166.9 388.9,166.1 389.0,165.3 389.2,164.5 389.4,163.8 389.6,163.0 389.8,162.2 390.0,161.4 390.2,160.7 390.4,159.9 390.7,159.1 390.9,158.4 391.1,157.6 391.3,156.8 391.5,156.0 391.8,155.3 392.0,154.5 392.2,153.7 392.5,153.0 392.8,152.2 393.1,151.5 393.5,150.8 393.9,150.1 394.3,149.4 394.8,148.7 395.2,148.1 395.7,147.4 396.4,146.9 397.0,146.4 397.7,146.0 398.2,145.4 398.8,144.7 399.3,143.9 399.8,143.1 400.3,142.7 400.8,142.7 401.3,143.0 401.8,143.6 402.3,144.3 402.8,145.1 403.3,145.9 403.8,146.6 404.3,147.3 404.7,148.0 405.1,148.7 405.5,149.4 405.9,150.1 406.2,150.8 406.5,151.5 406.8,152.3 407.0,153.0 407.3,153.8 407.5,154.6 407.8,155.3 408.0,156.1 408.2,156.9 408.5,157.6 408.7,158.4 408.9,159.2 409.1,159.9 409.3,160.7 409.5,161.5 409.6,162.3 409.8,163.1 409.9,163.8 410.1,164.6 410.2,165.4 410.4,166.2 410.5,167.0 410.6,167.8 410.8,168.6 410.9,169.4 411.1,170.1 411.2,170.9 411.3,171.7 411.5,172.5 411.6,173.3 411.7,174.1 411.9,174.9 412.0,175.7 412.1,176.4 412.3,177.2 412.4,178.0 412.5,178.8 412.7,179.6 412.8,180.4 412.9,181.2 413.1,182.0 413.2,182.8 413.3,183.5 413.5,184.3 413.6,185.1 413.7,185.9 413.8,186.7 414.0,187.5 414.1,188.3 414.2,189.1 414.4,189.9 414.5,190.7 414.6,191.4 414.8,192.2 414.9,193.0 415.0,193.8 415.1,194.6 415.3,195.4 415.4,196.2 415.5,197.0 415.7,197.8 415.8,198.5 415.9,199.3 416.0,200.1 416.2,200.9 416.3,201.7 416.4,202.5 416.6,203.3 416.7,204.1 416.8,204.9 416.9,205.7 417.1,206.4 417.2,207.2 417.3,208.0 417.4,208.8 417.6,209.6 417.7,210.4 417.8,211.2 417.9,212.0 418.0,212.8 418.1,213.6 418.3,214.4 418.4,215.1 418.5,215.9 418.6,216.7 418.7,217.5 418.8,218.3 418.9,219.1 419.1,219.9 419.2,220.7 419.3,221.5 419.4,222.3 419.5,223.1 419.6,223.9 419.8,224.6 419.9,225.4 420.0,226.2 420.1,227.0 420.2,227.8 420.3,228.6 420.5,229.4 420.6,230.2 420.7,231.0 420.8,231.8 421.0,232.6 421.1,233.3 421.2,234.1 421.4,234.9 421.5,235.7 421.6,236.5 421.8,237.3 421.9,238.1 422.0,238.9 422.2,239.6 422.3,240.4 422.5,241.2 422.6,242.0 422.8,242.8 422.9,243.6 423.0,244.4 423.2,245.2 423.3,246.0 423.5,246.8 423.7,247.7 423.9,248.6 424.1,249.5 424.3,250.4 424.5,251.3 424.7,252.1 424.9,252.9 425.1,253.7 425.4,254.4 425.6,255.1 425.8,255.7 426.0,256.2 426.3,256.6 426.6,256.6 426.9,256.2 427.2,255.5 427.5,254.5 427.9,253.4 428.2,252.3 428.5,251.2 428.7,250.3 428.9,249.5 429.0,248.7 429.2,247.9 429.3,247.2 429.5,246.4 429.6,245.6 429.8,244.8 429.9,244.0 430.1,243.2 430.2,242.4 430.3,241.6 430.4,240.9 430.5,240.1 430.7,239.3 430.8,238.5 430.9,237.7 431.0,236.9 431.1,236.1 431.2,235.3 431.3,234.5 431.4,233.7 431.5,232.9 431.6,232.1 431.7,231.3 431.8,230.6 431.9,229.8 432.0,229.0 432.1,228.2 432.2,227.4 432.3,226.6 432.4,225.8 432.5,225.0 432.6,224.2 432.7,223.4 432.8,222.6 432.9,221.8 433.0,221.0 433.1,220.2 433.2,219.4 433.2,218.6 433.3,217.8 433.4,217.1 433.5,216.3 433.6,215.5 433.6,214.7 433.7,213.9 433.8,213.1 433.9,212.3 433.9,211.5 434.0,210.7 434.1,209.9 434.1,209.1 434.2,208.3 434.3,207.5 434.3,206.7 434.4,205.9 434.5,205.1 434.6,204.3 434.6,203.5 434.7,202.7 434.8,201.9 434.8,201.1 434.9,200.3 435.0,199.5 435.0,198.7 435.1,197.9 435.2,197.1 435.2,196.3 435.3,195.5 435.4,194.7 435.4,193.9 435.5,193.1 435.6,192.4 435.7,191.6 435.7,190.8 435.8,190.0 435.9,189.2 435.9,188.4 436.0,187.6 436.1,186.8 436.1,186.0 436.2,185.2 436.3,184.4 436.3,183.6 436.4,182.8 436.5,182.0 436.5,181.2 436.6,180.4 436.7,179.6 436.8,178.8 436.8,178.0 436.9,177.2 437.0,176.4 437.0,175.6 437.1,174.8 437.2,174.0 437.2,173.2 437.3,172.4 437.4,171.6 437.4,170.8 437.5,170.0 437.6,169.2 437.6,168.4 437.7,167.6 437.8,166.8 437.8,166.0 437.9,165.3 438.0,164.5 438.0,163.7 438.1,162.9 438.2,162.1 438.3,161.3 438.3,160.5 438.4,159.7 438.5,158.9 438.5,158.1 438.6,157.3 438.7,156.5 438.7,155.7 438.8,154.9 438.9,154.1 438.9,153.3 439.0,152.5 439.1,151.7 439.1,150.9 439.2,150.1 439.3,149.3 439.4,148.5 439.4,147.7 439.5,146.9 439.6,146.1 439.7,145.3 439.7,144.5 439.8,143.7 439.9,142.9 440.0,142.1 440.1,141.4 440.2,140.6 440.2,139.8 440.3,139.0 440.4,138.2 440.5,137.4 440.6,136.6 440.7,135.8 440.8,135.0 440.9,134.2 441.0,133.4 441.0,132.6 441.1,131.8 441.2,131.0 441.3,130.2 441.4,129.4 441.5,128.6 441.6,127.8 441.7,127.0 441.8,126.2 441.9,125.5 441.9,124.7 442.0,123.9 442.1,123.1 442.2,122.3 442.3,121.5 442.4,120.7 442.5,119.9 442.6,119.1 442.7,118.3 442.8,117.5 442.8,116.7 442.9,115.9 443.0,115.1 443.1,114.3 443.2,113.5 443.3,112.7 443.4,111.9 443.5,111.1 443.6,110.3 443.7,109.6 443.8,108.8 443.8,108.0 443.9,107.2 444.0,106.4 444.1,105.6 444.2,104.8 444.3,104.0 444.4,103.2 444.5,102.4 444.6,101.6 444.7,100.8 444.8,100.0 444.9,99.2 445.0,98.4 445.1,97.6 445.1,96.8 445.2,96.0 445.3,95.3 445.4,94.5 445.5,93.7 445.6,92.9 445.7,92.1 445.8,91.3 445.9,90.5 446.0,89.7 446.1,88.9 446.2,88.1 446.3,87.3 446.4,86.5 446.5,85.7 446.6,84.9 446.7,84.1 446.8,83.3 446.9,82.6 447.1,81.8 447.2,81.0 447.3,80.2 447.4,79.4 447.5,78.6 447.7,77.8 447.8,77.0 448.0,76.2 448.1,75.5 448.3,74.7 448.4,73.9 448.6,73.1 448.8,72.3 449.0,71.5 449.2,70.8 449.4,70.0 449.4,70.0 451.0,56.9 452.4,51.4 453.8,50.0 455.2,43.8 457.2,40.3 458.6,35.5 460.0,36.9 461.4,30.7 463.4,27.9 464.8,25.9 466.2,27.2 467.6,23.8 469.7,24.5 471.4,23.8 473.1,20.3 474.8,18.3 476.1,21.0 477.5,25.2 479.3,28.6 480.3,24.5 482.1,23.1 483.9,22.4 484.8,26.6 486.2,29.3 487.6,27.9 488.6,32.8 490.3,34.1 492.4,33.7 494.1,35.5 495.2,41.0 496.8,43.1 497.9,46.6 499.3,51.4 500.7,56.2 502.3,58.3 504.1,63.1 505.5,70.0 506.0,75.4 506.0,75.4 506.2,76.2 506.4,77.0 506.5,77.7 506.7,78.5 506.9,79.3 507.1,80.1 507.2,80.9 507.4,81.6 507.6,82.4 507.7,83.2 507.9,84.0 508.1,84.8 508.2,85.5 508.4,86.3 508.5,87.1 508.7,87.9 508.9,88.7 509.0,89.5 509.2,90.3 509.3,91.0 509.5,91.8 509.6,92.6 509.8,93.4 509.9,94.2 510.1,95.0 510.2,95.7 510.4,96.5 510.5,97.3 510.7,98.1 510.8,98.9 511.0,99.7 511.1,100.5 511.3,101.2 511.4,102.0 511.6,102.8 511.7,103.6 511.9,104.4 512.0,105.2 512.2,105.9 512.3,106.7 512.5,107.5 512.7,108.3 512.8,109.1 513.0,109.9 513.1,110.6 513.3,111.4 513.4,112.2 513.6,113.0 513.8,113.8 513.9,114.6 514.1,115.3 514.2,116.1 514.4,116.9 514.6,117.7 514.7,118.5 514.9,119.3 515.0,120.1 515.2,120.8 515.3,121.6 515.5,122.4 515.6,123.2 515.7,124.0 515.9,124.8 516.0,125.6 516.1,126.3 516.2,127.1 516.4,127.9 516.5,128.7 516.6,129.5 516.7,130.3 516.8,131.1 516.8,131.9 516.9,132.7 517.0,133.5 517.1,134.3 517.2,135.1 517.3,135.9 517.4,136.7 517.5,137.5 517.6,138.3 517.7,139.0 517.8,139.8 517.9,140.6 518.0,141.4 518.1,142.2 518.2,143.0 518.3,143.8 518.4,144.6 518.5,145.4 518.7,146.2 518.8,147.0 518.9,147.7 519.0,148.5 519.2,149.3 519.3,150.1 519.4,150.9 519.6,151.7 519.7,152.5 519.8,153.3 520.0,154.1 520.1,154.8 520.2,155.6 520.3,156.4 520.5,157.2 520.6,158.0 520.7,158.8 520.9,159.6 521.0,160.4 521.1,161.2 521.3,161.9 521.4,162.7 521.5,163.5 521.6,164.3 521.8,165.1 521.9,165.9 522.0,166.7 522.1,167.5 522.3,168.3 522.4,169.0 522.5,169.8 522.6,170.6 522.8,171.4 522.9,172.2 523.0,173.0 523.1,173.8 523.3,174.6 523.4,175.4 523.5,176.1 523.6,176.9 523.7,177.7 523.9,178.5 524.0,179.3 524.1,180.1 524.2,180.9 524.4,181.7 524.5,182.5 524.6,183.3 524.8,184.0 524.9,184.8 525.0,185.6 525.2,186.4 525.3,187.2 525.5,188.0 525.6,188.8 525.7,189.5 525.9,190.3 526.0,191.1 526.2,191.9 526.3,192.7 526.5,193.5 526.6,194.3 526.8,195.0 526.9,195.8 527.1,196.6 527.2,197.4 527.4,198.2 527.5,199.0 527.6,199.8 527.8,200.6 527.9,201.3 528.0,202.1 528.2,202.9 528.3,203.7 528.4,204.5 528.5,205.3 528.6,206.1 528.7,206.9 528.9,207.7 529.0,208.5 529.1,209.2 529.2,210.0 529.3,210.8 529.4,211.6 529.5,212.4 529.6,213.2 529.7,214.0 529.8,214.8 529.9,215.6 530.0,216.4 530.1,217.2 530.3,218.0 530.4,218.7 530.5,219.5 530.6,220.3 530.7,221.1 530.9,221.9 531.0,222.7 531.1,223.5 531.3,224.3 531.4,225.1 531.6,225.8 531.8,226.6 531.9,227.4 532.1,228.2 532.3,229.0 532.5,229.7 532.7,230.5 532.8,231.3 533.0,232.1 533.2,232.8 533.4,233.6 533.6,234.4 533.8,235.2 534.0,235.9 534.2,236.7 534.4,237.5 534.6,238.3 534.8,239.0 535.0,239.8 535.3,240.6 535.5,241.3 535.7,242.1 536.0,242.9 536.2,243.6 536.5,244.4 536.7,245.1 537.0,245.9 537.3,246.6 537.5,247.4 537.8,248.1 538.2,248.9 538.5,249.6 538.9,250.3 539.3,251.0 539.7,251.6 540.2,252.3 540.6,253.0 541.1,253.6 541.6,254.3 542.2,254.9 542.7,255.5 543.3,256.0 544.0,256.5 544.6,256.9 545.4,257.2 546.2,257.5 546.9,257.7 547.7,257.9 548.5,258.1 549.3,258.2 550.0,258.4 550.8,258.5 551.6,258.6 552.4,258.8 553.2,258.9 554.0,259.0 554.8,259.1 555.6,259.1 556.4,259.1 557.2,259.1 558.0,259.1 558.8,259.1 559.6,259.1 560.4,259.0 561.2,258.9 562.0,258.8 562.8,258.8 563.6,258.7 564.4,258.6 565.2,258.5 565.9,258.4 566.7,258.3 567.5,258.2 568.3,258.0 569.1,257.9 569.9,257.8 569.9,257.8 570.5,257.4 571.1,256.9 571.7,256.5 572.3,256.1 573.0,255.6 573.6,255.2 574.2,254.8 574.8,254.3 575.4,253.8 575.9,253.3 576.4,252.8 577.0,252.3 577.6,251.8 578.3,251.5 579.0,251.3"/>
</g>
<g fill="#000">
<text x="45.3" y="404.1" text-anchor="middle" font-size="17.5">380</text>
<text x="93.4" y="404.1" text-anchor="middle" font-size="17.5">400</text>
<text x="141.5" y="404.1" text-anchor="middle" font-size="17.5">420</text>
<text x="189.6" y="404.1" text-anchor="middle" font-size="17.5">440</text>
<text x="237.7" y="404.1" text-anchor="middle" font-size="17.5">460</text>
<text x="285.8" y="404.1" text-anchor="middle" font-size="17.5">480</text>
<text x="333.8" y="404.1" text-anchor="middle" font-size="17.5">500</text>
<text x="381.9" y="404.1" text-anchor="middle" font-size="17.5">520</text>
<text x="430.0" y="404.1" text-anchor="middle" font-size="17.5">540</text>
<text x="478.1" y="404.1" text-anchor="middle" font-size="17.5">560</text>
<text x="526.2" y="404.1" text-anchor="middle" font-size="17.5">580</text>
<text x="574.3" y="404.1" text-anchor="middle" font-size="17.5">600</text>
<text transform="translate(0,430.3) scale(0.955,1)" x="228.57 248.27 259.71 269.84 281.54 288.06 299.94 313.46 325.29 332.11 347.02 357.36 365.28 377.75 396.42" y="0" font-size="21.5">Wavelength (nm)</text>
<text transform="translate(18.4,0) rotate(-90) scale(0.88,1)" x="-338.18 -318.39 -303.57 -295.91 -288.39 -274.07 -259.36 -250.33 -236.05 -219.41 -203.39 -190.57 -182.39 -173.17 -159.27 -149.93 -134.39 -125.70" y="0" font-size="22.8">Reflectance (a.u.)</text>
</g>
<text x="57.8" y="125.3" font-size="20.8" fill="#800080">98%</text>
<text x="163.5" y="62.9" font-size="20.7" fill="#2a2acd">99%</text>
<text x="390.8" y="41.3" font-size="21.2" fill="#067e06">97%</text>
</svg>
</body></html>
